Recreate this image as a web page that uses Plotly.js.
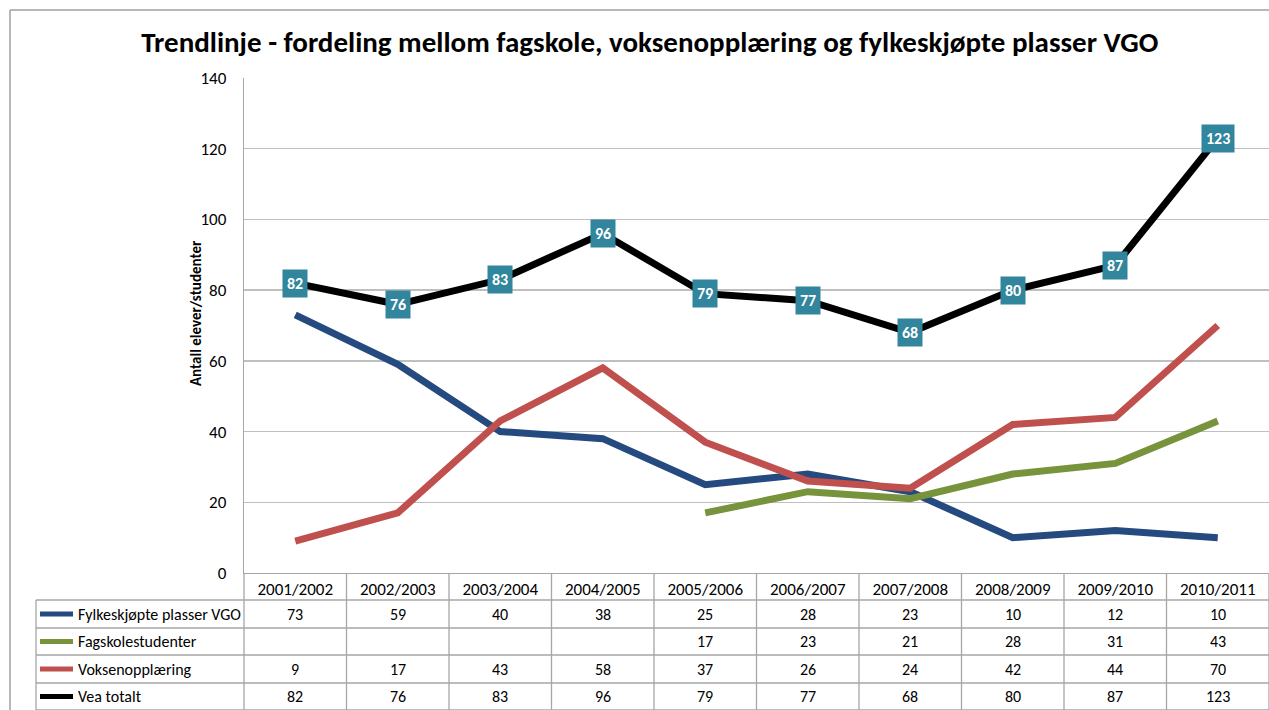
<!DOCTYPE html>
<html>
<head>
<meta charset="utf-8">
<script src="https://cdn.plot.ly/plotly-3.0.1.min.js"></script>
<style>html,body{margin:0;padding:0;overflow:hidden;background:#fff}</style>
</head>
<body>
<div id="chart" style="width:1269px;height:710px"></div>
<script>
const years = ["2001/2002","2002/2003","2003/2004","2004/2005","2005/2006","2006/2007","2007/2008","2008/2009","2009/2010","2010/2011"];
const fylkeskjopte = [73,59,40,38,25,28,23,10,12,10];
const fagskole = [null,null,null,null,17,23,21,28,31,43];
const voksen = [9,17,43,58,37,26,24,42,44,70];
const veaTotalt = [82,76,83,96,79,77,68,80,87,123];
const seriesNames = ["Fylkeskjøpte plasser VGO","Fagskolestudenter","Voksenopplæring","Vea totalt"];
const seriesColors = ["#254A7F","#77933C","#C0504D","#000000"];
const seriesData = [fylkeskjopte, fagskole, voksen, veaTotalt];

const FONT = "Carlito, Lato, 'Open Sans', sans-serif";
const W = 1269, H = 710, L = 244, T = 78, B = 573;
const px2x = p => (p - L) / (W - L);
const py2y = p => (B - p) / (B - T);

const traces = seriesData.map((d, i) => ({
  x: years, y: d, type: 'scatter', mode: 'lines', name: seriesNames[i],
  line: {color: seriesColors[i], width: 7}, connectgaps: false, hoverinfo: 'x+y+name'
}));

const shapes = [];
const annotations = [];
const gridColor = '#A6A6A6';
// outer chart border
shapes.push({type:'line', xref:'paper', yref:'paper', x0:px2x(10), x1:px2x(W+5), y0:py2y(10), y1:py2y(10), line:{color:'#A0A0A0', width:1.5}});
shapes.push({type:'line', xref:'paper', yref:'paper', x0:px2x(10), x1:px2x(10), y0:py2y(10), y1:py2y(H+5), line:{color:'#A0A0A0', width:1.5}});
// table horizontal lines
const rowLines = [600, 628, 655, 683, 710];
rowLines.forEach(p => shapes.push({type:'line', xref:'paper', yref:'paper', x0:px2x(36), x1:1.01, y0:py2y(p), y1:py2y(p), line:{color:gridColor, width:1.3}}));
// table left border
shapes.push({type:'line', xref:'paper', yref:'paper', x0:px2x(36), x1:px2x(36), y0:py2y(600), y1:py2y(712), line:{color:gridColor, width:1.3}});
// left axis extension through table
shapes.push({type:'line', xref:'paper', yref:'paper', x0:0, x1:0, y0:py2y(573), y1:py2y(712), line:{color:gridColor, width:1.3}});
// column boundaries
for (let i = 0; i < years.length; i++) {
  shapes.push({type:'line', xref:'x', yref:'paper', x0:i+0.5, x1:i+0.5, y0:py2y(573), y1:py2y(712), line:{color:gridColor, width:1.3}});
}
// table rows
const rowCenters = [614, 641.5, 669, 696.5];
seriesData.forEach((d, r) => {
  const yc = py2y(rowCenters[r]);
  shapes.push({type:'line', xref:'paper', yref:'paper', x0:px2x(40), x1:px2x(73), y0:yc, y1:yc, line:{color:seriesColors[r], width:5}});
  annotations.push({xref:'paper', yref:'paper', x:px2x(76), y:yc, xanchor:'left', yanchor:'middle', text:seriesNames[r], showarrow:false, font:{family:FONT, size:16, color:'#000'}});
  d.forEach((v, i) => {
    if (v === null) return;
    annotations.push({xref:'x', yref:'paper', x:i, y:yc, xanchor:'center', yanchor:'middle', text:String(v), showarrow:false, font:{family:FONT, size:16, color:'#000'}});
  });
});
// data labels for Vea totalt
veaTotalt.forEach((v, i) => {
  annotations.push({xref:'x', yref:'y', x:years[i], y:v, text:'<b>'+v+'</b>', showarrow:false, bgcolor:'#31859C', borderpad:4, font:{family:FONT, size:16, color:'#fff'}});
});
// y axis title
annotations.push({xref:'paper', yref:'paper', x:px2x(196), y:py2y(313), xanchor:'center', yanchor:'middle', textangle:-90, text:'<b>Antall elever/studenter</b>', showarrow:false, font:{family:FONT, size:15, color:'#000'}});

const layout = {
  width: W, height: H,
  margin: {l: L, r: 0, t: T, b: H - B, pad: 0},
  paper_bgcolor: '#fff', plot_bgcolor: '#fff',
  showlegend: false,
  title: {text: '<b>Trendlinje - fordeling mellom fagskole, voksenopplæring og fylkeskjøpte plasser VGO</b>', x: 0.512, xanchor:'center', y: 1 - 42/H, yanchor:'middle', font: {family: FONT, size: 29, color: '#000'}},
  xaxis: {type:'category', range:[-0.5, 9.5], showgrid:false, zeroline:false, showline:true, linecolor:gridColor, linewidth:1.3,
          ticks:'', tickfont:{family:FONT, size:17, color:'#000'}, fixedrange:true},
  yaxis: {range:[0, 140], dtick:20, showgrid:true, gridcolor:'#BFBFBF', gridwidth:1.3, zeroline:false, showline:true, linecolor:gridColor, linewidth:1.3,
          ticks:'', ticklabelstandoff:13, tickfont:{family:FONT, size:17, color:'#000'}, fixedrange:true},
  shapes: shapes,
  annotations: annotations
};
Plotly.newPlot('chart', traces, layout, {displayModeBar:false, staticPlot:true});
</script>
</body>
</html>
